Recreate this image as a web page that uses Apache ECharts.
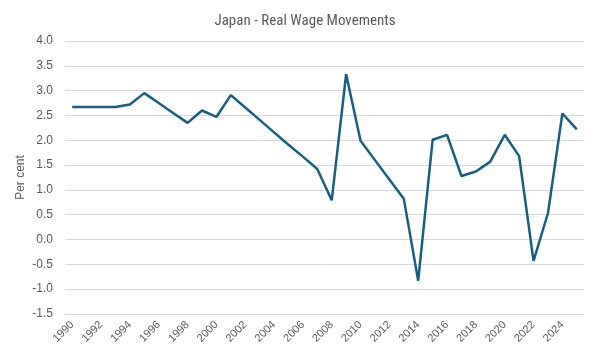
<!DOCTYPE html>
<html>
<head>
<meta charset="utf-8">
<script src="https://cdn.jsdelivr.net/npm/echarts@6/dist/echarts.min.js"></script>
<style>html,body{margin:0;padding:0;background:#fff}#c{width:600px;height:360px}</style>
</head>
<body>
<div id="c"></div>
<script>
const years = ["1990","1991","1992","1993","1994","1995","1996","1997","1998","1999","2000","2001","2002","2003","2004","2005","2006","2007","2008","2009","2010","2011","2012","2013","2014","2015","2016","2017","2018","2019","2020","2021","2022","2023","2024","2025"];
const realWage = [2.67,2.67,2.67,2.67,2.72,2.95,2.75,2.55,2.35,2.60,2.47,2.91,2.66,2.41,2.16,1.91,1.67,1.42,0.79,3.33,1.99,1.60,1.21,0.82,-0.83,2.01,2.11,1.28,1.37,1.57,2.11,1.68,-0.43,0.53,2.54,2.22];
const titleText = "Japan - Real Wage Movements";
const yAxisName = "Per cent";

const chart = echarts.init(document.getElementById('c'), null, {renderer:'canvas'});
chart.setOption({
  animation: false,
  title: {
    text: titleText, left: 300, top: 9, textAlign: 'center',
    textStyle: {fontFamily: '"Liberation Sans Narrow", "Roboto Condensed", "Liberation Sans"', fontSize: 15, fontWeight: 'normal', color: '#595959'}
  },
  grid: {left: 65, right: 16, top: 41, bottom: 46, containLabel: false},
  xAxis: {
    type: 'category', data: years, boundaryGap: true,
    axisLine: {show: false}, axisTick: {show: false},
    axisLabel: {interval: 1, rotate: 45, fontFamily: 'Liberation Sans', fontSize: 11, color: '#595959', margin: 9}
  },
  yAxis: {
    type: 'value', min: -1.5, max: 4.0, interval: 0.5,
    name: yAxisName, nameLocation: 'middle', nameGap: 38, nameRotate: 90, nameMoveOverlap: false,
    nameTextStyle: {fontFamily: 'Liberation Sans', fontSize: 12, color: '#595959'},
    axisLine: {show: false}, axisTick: {show: false},
    axisLabel: {formatter: v => v.toFixed(1), fontFamily: 'Liberation Sans', fontSize: 12, color: '#595959', margin: 12},
    splitLine: {lineStyle: {color: '#d9d9d9', width: 1}}
  },
  series: [{
    type: 'line', data: realWage, symbol: 'none',
    lineStyle: {color: '#156082', width: 2.5}, itemStyle: {color: '#156082'}
  }]
});
</script>
</body>
</html>
